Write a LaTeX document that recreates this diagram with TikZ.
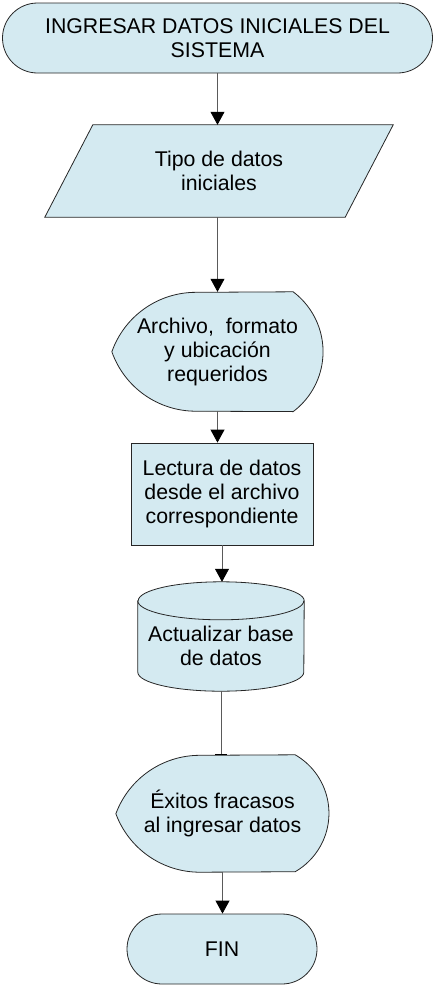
\documentclass[tikz,border=0pt]{standalone}
\usepackage{fontspec}
\setmainfont{Liberation Sans}
\usetikzlibrary{shapes.misc,arrows.meta,backgrounds}

\definecolor{celeste}{RGB}{212,234,241}
\definecolor{linea}{RGB}{90,90,90}

\tikzset{
  caja/.style={draw=black!85, line width=0.8pt, fill=celeste},
  texto/.style={align=center, font=\fontsize{21.3}{24}\selectfont, inner sep=0pt},
  terminal/.style={caja, texto, rounded rectangle},
  flecha/.style={draw=linea, line width=0.8pt, -{Triangle[width=14pt,length=13pt,black]}},
}

\begin{document}
\begin{tikzpicture}[x=1pt,y=-1pt]
    \useasboundingbox (0,0) rectangle (434,986);

    % Shapes
    \node[terminal, minimum width=430, minimum height=70] (inicio) at (217.5,38) {INGRESAR DATOS INICIALES DEL\\SISTEMA};
    \node[texto, minimum width=300, minimum height=92] (tipo) at (219,171) {Tipo de datos\\iniciales};
    \node[texto, minimum width=211, minimum height=119] (archivo) at (217.5,351.5) {Archivo, \ formato\\y ubicación\\requeridos};
    \node[caja, texto, minimum width=182, minimum height=102] (lectura) at (222,494) {Lectura de datos\\desde el archivo\\correspondiente};
    \node[texto, minimum width=166, minimum height=90] (base) at (221,646) {Actualizar base\\de datos};
    \node[texto, minimum width=213, minimum height=117] (exitos) at (222.5,813.5) {Éxitos fracasos\\al ingresar datos};
    \node[terminal, minimum width=190, minimum height=70] (fin) at (222,949) {FIN};

    % Outlines behind the text
    \begin{scope}[on background layer]
      \draw[caja] ([xshift=24pt]tipo.north west) -- ([xshift=24pt]tipo.north east)
        -- ([xshift=-24pt]tipo.south east) -- ([xshift=-24pt]tipo.south west) -- cycle;
      \draw[caja] ([xshift=-30pt]archivo.north east) arc[start angle=53, end angle=-53, radius=75pt]
        -- ([xshift=84pt]archivo.south west) arc[start angle=270, end angle=199.4, radius=89pt]
        arc[start angle=160.6, end angle=90, radius=89pt] -- cycle;
      \draw[caja] (base.north west) -- ([yshift=19pt]base.south west)
        arc[start angle=180, end angle=360, x radius=83pt, y radius=19pt]
        -- (base.north east) arc[start angle=0, end angle=180, x radius=83pt, y radius=19pt] -- cycle;
      \draw[caja, fill=none] (base.north west) arc[start angle=180, end angle=360, x radius=83pt, y radius=19pt];
      \draw[caja] ([xshift=-34pt]exitos.north east) arc[start angle=60, end angle=-60, radius=67.5pt]
        -- ([xshift=84pt]exitos.south west) arc[start angle=270, end angle=200.3, radius=89.5pt]
        arc[start angle=159.7, end angle=90, radius=89.5pt] -- cycle;
    \end{scope}

    % Lines
    \draw[flecha] (inicio.south) -- (inicio.south |- tipo.north);
    \draw[flecha] (archivo.north |- tipo.south) -- (archivo.north);
    \draw[flecha] (archivo.south) -- (archivo.south |- lectura.north);
    \draw[flecha] (lectura.south) -- ([yshift=19pt]lectura.south |- base.north);
    \draw[draw=linea, line width=0.8pt, -{Bar[width=12pt,black]}] (base.south) -- (base.south |- exitos.north);
    \draw[flecha] (exitos.south) -- (exitos.south |- fin.north);

\end{tikzpicture}
\end{document}
